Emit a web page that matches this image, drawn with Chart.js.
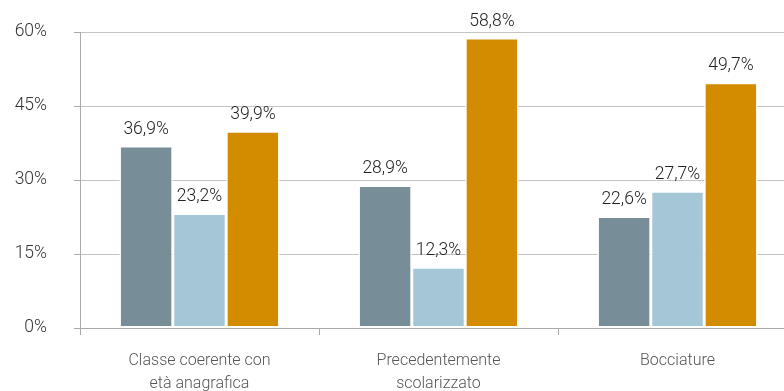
<!DOCTYPE html>
<html>
<head>
<meta charset="utf-8">
<script src="https://cdn.jsdelivr.net/npm/chart.js@4"></script>
<style>
  html, body { margin: 0; padding: 0; background: #fff; overflow: hidden; }
  #wrap { width: 800px; height: 391px; }
</style>
</head>
<body>
<div id="wrap"><canvas id="chart"></canvas></div>
<script>
// categorie e valori
const categories = [['Classe coerente con', 'età anagrafica'], ['Precedentemente', 'scolarizzato'], ['Bocciature']];
const serieA = [36.9, 28.9, 22.6];
const serieB = [23.2, 12.3, 27.7];
const serieC = [39.9, 58.8, 49.7];
const yTicks = [0, 15, 30, 45, 60];

const colors = ['#778e98', '#a4c6d6', '#d38b00'];
const FONT = 'Roboto';

// etichette sopra le barre
const valueLabels = {
    id: 'valueLabels',
    afterDatasetsDraw(chart) {
        const ctx = chart.ctx;
        ctx.save();
        ctx.font = '300 17.5px ' + FONT;
        ctx.fillStyle = '#222';
        ctx.textAlign = 'center';
        ctx.textBaseline = 'bottom';
        chart.data.datasets.forEach((ds, i) => {
            chart.getDatasetMeta(i).data.forEach((bar, j) => {
                const txt = ds.data[j].toFixed(1).replace('.', ',') + '%';
                ctx.fillText(txt, bar.x, bar.y - 8);
            });
        });
        ctx.restore();
    }
};

const ds = (data, c) => ({
    data: data,
    backgroundColor: c,
    borderColor: '#fff',
    borderWidth: 1.5,
    borderSkipped: false,
    categoryPercentage: 0.67,
    barPercentage: 1
});

new Chart(document.getElementById('chart'), {
    type: 'bar',
    data: {
        labels: categories,
        datasets: [ds(serieA, colors[0]), ds(serieB, colors[1]), ds(serieC, colors[2])]
    },
    options: {
        responsive: true,
        maintainAspectRatio: false,
        animation: false,
        layout: { padding: { top: 32, right: 3, left: 0, bottom: 0 } },
        plugins: { legend: { display: false }, tooltip: { enabled: false } },
        scales: {
            x: {
                grid: { offset: true, drawOnChartArea: false, color: '#aaa', tickLength: 7 },
                border: { color: '#aaa' },
                ticks: { color: '#555', font: { family: FONT, size: 16, weight: 300, lineHeight: 1.45 }, padding: 14, maxRotation: 0 },
                afterFit: s => { s.height = 63; }
            },
            y: {
                min: 0, max: 60,
                afterBuildTicks: s => { s.ticks = yTicks.map(v => ({ value: v })); },
                grid: { color: '#c4c4c4', tickLength: 6, tickColor: '#aaa' },
                border: { color: '#aaa' },
                ticks: {
                    color: '#333',
                    font: { family: FONT, size: 17.5, weight: 300 },
                    padding: 27,
                    callback: v => v + '%'
                },
                afterFit: s => {
                    s.width = 80;
                    s.paddingTop = 0;
                    s.paddingBottom = 0;
                }
            }
        }
    },
    plugins: [valueLabels]
});
</script>
</body>
</html>
